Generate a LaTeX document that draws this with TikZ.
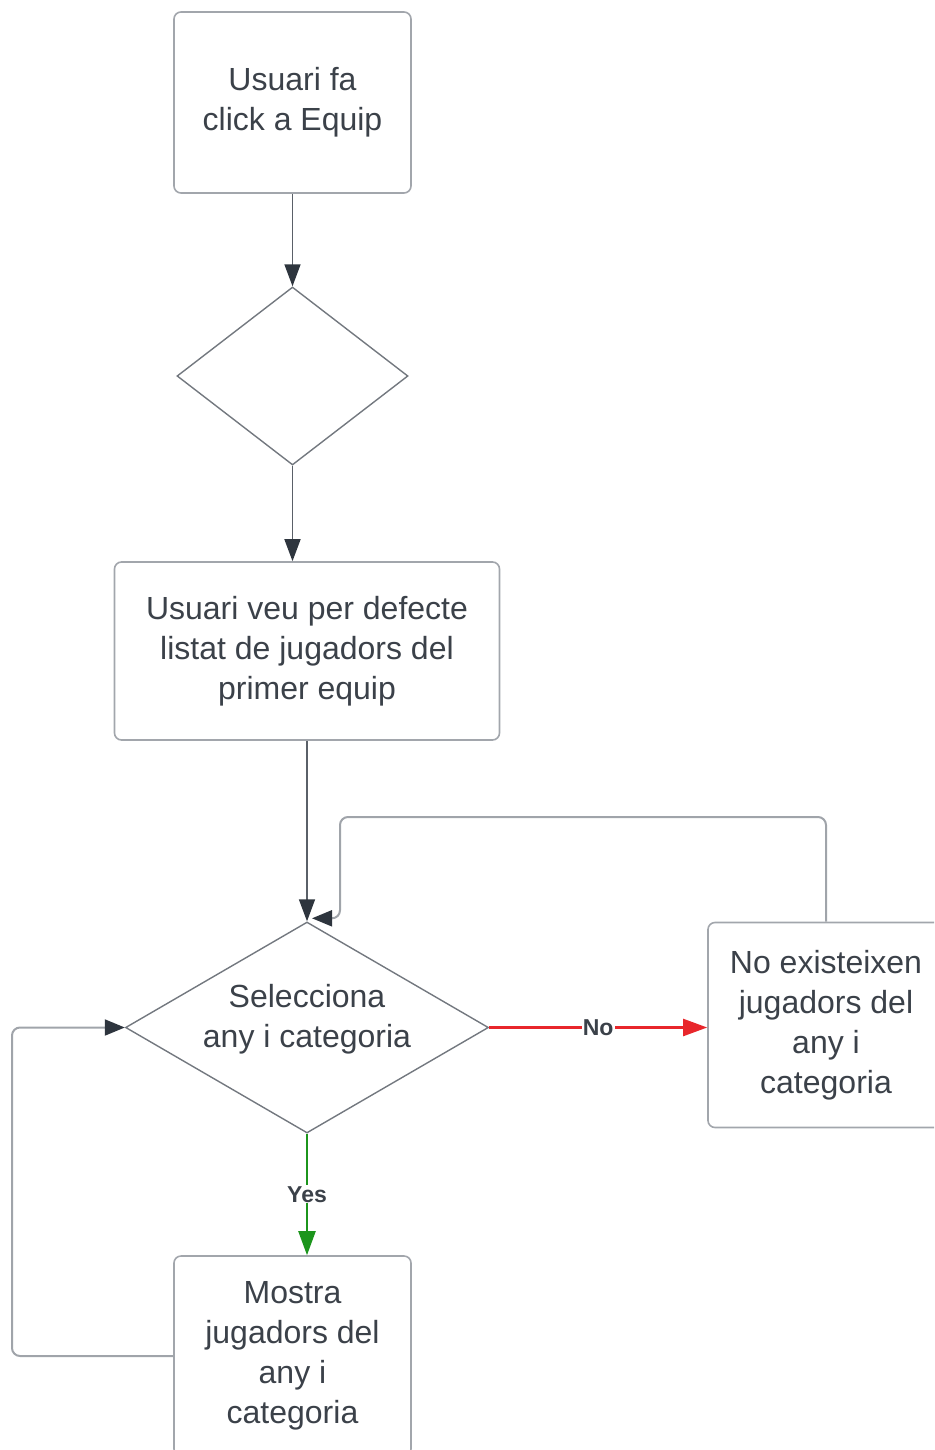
\documentclass[tikz,border=0pt]{standalone}
\usepackage{fontspec}
\setmainfont{Liberation Sans}
\usetikzlibrary{shapes.geometric,arrows.meta,calc}
\definecolor{txt}{HTML}{3B4149}
\definecolor{boxline}{HTML}{A2A6AC}
\definecolor{flowline}{HTML}{5A6068}
\definecolor{loopline}{HTML}{A0A4AA}
\definecolor{tipdark}{HTML}{2E353E}
\definecolor{noline}{HTML}{E8262B}
\definecolor{yesline}{HTML}{1C951C}
\begin{document}
\begin{tikzpicture}[x=1pt,y=-1pt,
  stepbox/.style={draw=boxline, line width=1.6pt, rounded corners=7pt,
    align=center, text=txt, inner sep=0pt,
    font=\fontsize{32}{40}\selectfont},
  choice/.style={diamond, draw=flowline!85, line width=1.4pt, inner sep=0pt},
  label/.style={text=txt, font=\fontsize{32}{40}\selectfont, align=center},
  tag/.style={fill=white, inner sep=1pt, text=txt,
    font=\fontsize{23}{28}\selectfont\bfseries},
  flow/.style={draw=flowline, line width=1.6pt,
    -{Triangle[length=22pt,width=16pt,color=tipdark]}},
  loop/.style={draw=loopline, line width=2pt, rounded corners=8pt,
    -{Triangle[length=20pt,width=16pt,color=tipdark]}},
  noflow/.style={draw=noline, line width=2.2pt,
    -{Triangle[length=24pt,width=17pt,color=noline]}},
  yesflow/.style={draw=yesline, line width=2.2pt,
    -{Triangle[length=24pt,width=17pt,color=yesline]}}
]
\useasboundingbox (0,0) rectangle (934,1450);
\begin{scope}
\clip (0,0) rectangle (934,1450);

% steps and decisions
\node[stepbox, minimum width=237pt, minimum height=181pt] (start) at (292.5,102.5)
  {Usuari fa\\click a Equip};
\node[choice, minimum width=231pt, minimum height=178pt] (d1) at (292.5,376) {};
\node[stepbox, minimum width=385pt, minimum height=178pt] (list) at (307,651)
  {Usuari veu per defecte\\listat de jugadors del\\primer equip};
\node[choice, minimum width=363pt, minimum height=211pt] (sel) at (307,1027.5) {};
\node[label] (seltext) at (307,1019) {Selecciona\\any i categoria};
\node[stepbox, minimum width=236pt, minimum height=205pt] (none) at (826,1025)
  {No existeixen\\jugadors del\\any i\\categoria};
\node[stepbox, minimum width=237pt, minimum height=200pt] (show) at (292.5,1356)
  {Mostra\\jugadors del\\any i\\categoria};

% main flow
\draw[flow] (start.south) -- (d1.north);
\draw[flow] (d1.south) -- (d1.south |- list.north);
\draw[flow] (list.south) -- (sel.north);

% outcomes of the selection
\draw[noflow] (sel.east) -- node[tag] {No} (sel.east -| none.west);
\draw[yesflow] (sel.south) -- node[tag] {Yes} (sel.south |- show.north);

% return paths to the selection
\coordinate (loopin) at ($(sel.north)+(5,-3)$);
\draw[loop] (none.north) |- (340,817) |- (loopin);
\draw[loop] (show.west) -- (12,1356) |- (sel.west);

\end{scope}
\end{tikzpicture}
\end{document}
